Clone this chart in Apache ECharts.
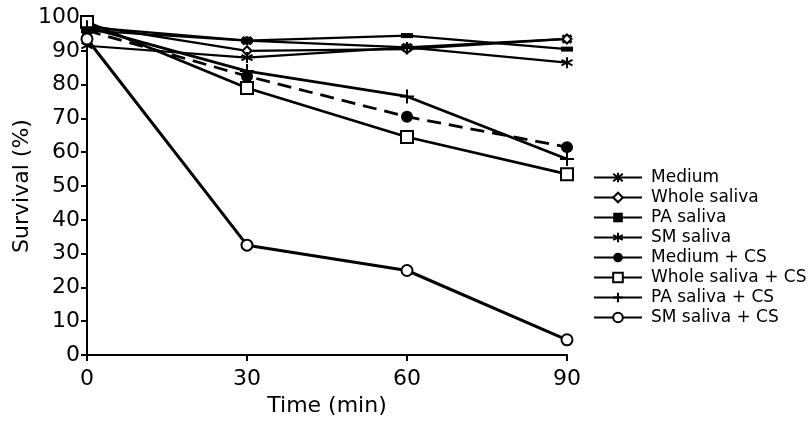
<!DOCTYPE html>
<html>
<head>
<meta charset="utf-8">
<script src="https://cdn.jsdelivr.net/npm/echarts@6/dist/echarts.min.js"></script>
<style>html,body{margin:0;padding:0;background:#fff}#c{width:812px;height:426px}</style>
</head>
<body>
<div id="c"></div>
<script>
var time = [0, 30, 60, 90];
var seriesNames = ['Medium', 'Whole saliva', 'PA saliva', 'SM saliva', 'Medium + CS', 'Whole saliva + CS', 'PA saliva + CS', 'SM saliva + CS'];
var medium = [97, 93, 91, 93.5];
var wholeSaliva = [97.5, 90, 90.5, 93.5];
var paSaliva = [96, 93, 94.5, 90.5];
var smSaliva = [91.5, 88, 91, 86.5];
var mediumCS = [96, 82.5, 70.5, 61.5];
var wholeSalivaCS = [98.5, 79, 64.5, 53.5];
var paSalivaCS = [97, 84, 76.5, 58];
var smSalivaCS = [93.5, 32.5, 25, 4.5];
var yTicks = [0, 10, 20, 30, 40, 50, 60, 70, 80, 90, 100];

var FONT = 'DejaVu Sans, Liberation Sans, Arial, sans-serif';
var asterisk = 'path://M5,0 L5,10 M0.7,2.5 L9.3,7.5 M9.3,2.5 L0.7,7.5';
var boldStar = 'path://M5,0 L5,10 M1,1 L9,9 M9,1 L1,9';
var plus = 'path://M5,0 L5,10 M2,5 L8,5';

function pairs(vals) { return time.map(function (t, i) { return [t, vals[i]]; }); }

function mk(name, vals, opt) {
  return {
    name: name, type: 'line', data: pairs(vals),
    symbol: opt.symbol, symbolSize: opt.size, showAllSymbol: true,
    lineStyle: { color: '#000', width: opt.width, type: opt.dash || 'solid' },
    itemStyle: { color: opt.fill, borderColor: '#000', borderWidth: opt.bw },
    emphasis: { disabled: true }, animation: false
  };
}

var allValues = [medium, wholeSaliva, paSaliva, smSaliva, mediumCS, wholeSalivaCS, paSalivaCS, smSalivaCS];
var styles = [
  { symbol: boldStar, size: 9, fill: '#000', bw: 3, width: 2.2 },
  { symbol: 'diamond', size: 9, fill: '#fff', bw: 2, width: 2.2 },
  { symbol: 'rect', size: [12, 5], fill: '#000', bw: 0, width: 2.2 },
  { symbol: asterisk, size: 11, fill: '#000', bw: 2, width: 2.2 },
  { symbol: 'circle', size: 12, fill: '#000', bw: 0, width: 2.8, dash: [14, 8] },
  { symbol: 'rect', size: 12, fill: '#fff', bw: 2, width: 2.8 },
  { symbol: plus, size: 14, fill: '#000', bw: 2, width: 2.8 },
  { symbol: 'circle', size: 11, fill: '#fff', bw: 2, width: 3 }
];

var series = seriesNames.map(function (n, i) { return mk(n, allValues[i], styles[i]); });

var chart = echarts.init(document.getElementById('c'), null, { renderer: 'canvas' });
chart.setOption({
  backgroundColor: '#fff',
  animation: false,
  textStyle: { fontFamily: FONT, color: '#000' },
  grid: { left: 87, top: 17, right: 245, bottom: 71, containLabel: false, outerBoundsMode: 'none' },
  xAxis: {
    type: 'value', min: 0, max: 90, interval: 30,
    name: 'Time (min)', nameLocation: 'middle', nameGap: 40, nameMoveOverlap: false,
    nameTextStyle: { fontSize: 22, color: '#000', fontFamily: FONT },
    axisLine: { show: true, onZero: false, lineStyle: { color: '#000', width: 2 } },
    axisTick: { show: true, inside: false, length: 6, lineStyle: { color: '#000', width: 2 } },
    axisLabel: { fontSize: 22, color: '#000', margin: 13, fontFamily: FONT },
    splitLine: { show: false }
  },
  yAxis: {
    type: 'value', min: 0, max: 100, interval: 10,
    name: 'Survival (%)', nameLocation: 'middle', nameGap: 54, nameRotate: 90, nameMoveOverlap: false,
    nameTextStyle: { fontSize: 22, color: '#000', fontFamily: FONT },
    axisLine: { show: true, onZero: false, lineStyle: { color: '#000', width: 2 } },
    axisTick: { show: true, inside: false, length: 6, lineStyle: { color: '#000', width: 2 } },
    axisLabel: { fontSize: 22, color: '#000', margin: 7, fontFamily: FONT,
      formatter: function (v) { return yTicks.indexOf(v) >= 0 ? String(v) : ''; } },
    splitLine: { show: false }
  },
  legend: {
    orient: 'vertical', left: 588, top: 164,
    itemWidth: 48, itemHeight: 12, itemGap: 3,
    textStyle: { fontSize: 17, lineHeight: 14, color: '#000', fontFamily: FONT, padding: [0, 0, 0, 4] },
    data: seriesNames.map(function (n, i) {
      var d = { name: n };
      if (i === 4) d.lineStyle = { type: 'solid' };
      return d;
    }),
    selectedMode: false
  },
  series: series
});
</script>
</body>
</html>
